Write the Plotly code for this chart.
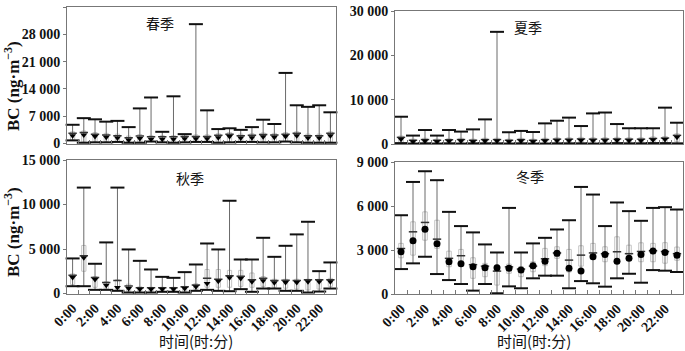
import plotly.graph_objects as go

hours = list(range(24))
xtick_vals = [0, 2, 4, 6, 8, 10, 12, 14, 16, 18, 20, 22]
xtick_text = ["0:00", "2:00", "4:00", "6:00", "8:00", "10:00", "12:00", "14:00", "16:00", "18:00", "20:00", "22:00"]

# ---- spring ----
spring_max = [4800, 6500, 6200, 5600, 5800, 4200, 9000, 11800, 3000, 12100, 2400, 30600, 8500, 3700, 3900, 3500, 4200, 6100, 5000, 18100, 9800, 9400, 9800, 8000]
spring_min = [800, 200, 300, 300, 400, 200, 200, 500, 300, 200, 300, 400, 400, 200, 300, 400, 400, 300, 300, 500, 300, 200, 200, 200]
spring_mean = [2000, 2200, 1800, 1600, 1400, 900, 1300, 1100, 1100, 1100, 1200, 1200, 1200, 1500, 1800, 1400, 1500, 1700, 1600, 1800, 2000, 1400, 1400, 2000]
spring_med = [2600, 2800, 2400, 2200, 2000, 1500, 1900, 1700, 1700, 1700, 1800, 1800, 1800, 2100, 2400, 2000, 2100, 2300, 2200, 2400, 2600, 2000, 2000, 2600]
spring_q1 = [900, 400, 500, 500, 600, 400, 400, 600, 500, 400, 500, 600, 600, 400, 500, 600, 600, 500, 500, 600, 500, 400, 400, 400]
spring_q3 = [3000, 3200, 2800, 2600, 2400, 1900, 2300, 2000, 2000, 2000, 2200, 2200, 2200, 2500, 2800, 2400, 2500, 2700, 2600, 2800, 3000, 2400, 2400, 3000]

# ---- summer ----
summer_max = [6150, 1900, 3150, 1900, 3150, 2800, 3300, 5550, 25300, 2650, 2950, 2700, 4650, 5250, 5950, 4050, 6900, 7100, 4500, 3550, 3550, 3550, 8200, 4800]
summer_min = [200, 100, 150, 100, 150, 100, 150, 150, 150, 100, 150, 100, 100, 150, 150, 150, 100, 100, 200, 150, 150, 200, 200, 150]
summer_mean = [1050, 500, 650, 500, 600, 650, 500, 650, 650, 500, 650, 500, 650, 750, 750, 800, 750, 750, 800, 750, 750, 900, 1000, 1550]
summer_med = [1500, 850, 1000, 850, 950, 1000, 850, 1000, 1000, 850, 1000, 850, 1000, 1100, 1100, 1150, 1100, 1100, 1150, 1100, 1100, 1250, 1350, 1950]
summer_q1 = [400, 250, 300, 250, 300, 300, 300, 300, 300, 250, 300, 250, 300, 350, 350, 350, 300, 300, 350, 300, 300, 350, 400, 500]
summer_q3 = [1800, 1100, 1300, 1100, 1200, 1300, 1100, 1300, 1300, 1100, 1300, 1100, 1300, 1400, 1400, 1500, 1400, 1400, 1500, 1400, 1400, 1600, 1700, 2300]

# ---- autumn ----
autumn_max = [3940, 11900, 3340, 5740, 11900, 4950, 3670, 2700, 1870, 1760, 2400, 3260, 5620, 4950, 10420, 3820, 3820, 6260, 4120, 5360, 6640, 8060, 2510, 3490]
autumn_min = [820, 820, 410, 410, 300, 110, 110, 110, 190, 190, 110, 300, 410, 300, 260, 490, 190, 560, 560, 300, 300, 110, 220, 560]
autumn_mean = [1800, 4010, 1570, 940, 670, 560, 490, 490, 490, 490, 560, 750, 1120, 1390, 1760, 1690, 1310, 1420, 1200, 1240, 1240, 1310, 1310, 1310]
autumn_med = [2050, 4250, 1800, 1250, 1450, 850, 650, 650, 650, 650, 750, 950, 1700, 1600, 2000, 1950, 1550, 1700, 1450, 1500, 1450, 1550, 1550, 1550]
autumn_q1 = [1000, 2500, 700, 500, 400, 250, 250, 250, 300, 300, 250, 450, 700, 700, 700, 800, 700, 800, 700, 600, 500, 400, 500, 800]
autumn_q3 = [2200, 5400, 1900, 1350, 1550, 1050, 750, 700, 700, 700, 800, 1100, 2700, 2700, 2600, 2600, 2300, 1900, 1600, 1600, 1600, 1600, 1600, 1700]

# ---- winter ----
winter_max = [5370, 7640, 8370, 7760, 5600, 4630, 4200, 3380, 2830, 5870, 2830, 3450, 3830, 4400, 5030, 7300, 6780, 4630, 6240, 5650, 4990, 5870, 5920, 5760]
winter_min = [1700, 2090, 2540, 1360, 950, 680, 230, 680, 50, 520, 390, 1070, 1250, 1250, 390, 880, 730, 500, 1070, 1380, 770, 1630, 1590, 1500]
winter_mean = [2880, 3630, 4420, 3420, 2200, 2060, 1860, 1790, 1790, 1750, 1630, 1930, 2240, 2770, 1750, 1560, 2540, 2700, 2240, 2430, 2700, 2930, 2830, 2650]
winter_med = [3100, 4240, 4880, 3740, 2430, 2610, 2000, 1900, 1560, 1850, 1700, 1900, 2400, 2800, 2310, 2650, 2800, 2750, 2880, 2750, 2900, 2950, 2900, 2750]
winter_q1 = [2470, 2650, 3670, 3110, 1860, 1900, 1070, 1180, 610, 1410, 1180, 1520, 1930, 2430, 1500, 1900, 2430, 2200, 2200, 2650, 2200, 2200, 2100, 2300]
winter_q3 = [3450, 4920, 5600, 5030, 2920, 3040, 2470, 2090, 1970, 2040, 1860, 2200, 3110, 3220, 3040, 3290, 3450, 3220, 3900, 3330, 3490, 3450, 3500, 3200]

panels = [
    dict(name="春季", mx=spring_max, mn=spring_min, mean=spring_mean, med=spring_med, q1=spring_q1, q3=spring_q3,
         ymax=35000, yt=[0, 7000, 14000, 21000, 28000, 35000], ytt=["0", "7 000", "14 000", "21 000", "28 000", "35 000"],
         xd=[67/685, 336/685], yd=[1-143.5/351, 1-7/351], sym="triangle-down", title_xy=(160, 23)),
    dict(name="夏季", mx=summer_max, mn=summer_min, mean=summer_mean, med=summer_med, q1=summer_q1, q3=summer_q3,
         ymax=30000, yt=[0, 10000, 20000, 30000], ytt=["0", "10 000", "20 000", "30 000"],
         xd=[395/685, 683/685], yd=[1-144/351, 1-11/351], sym="triangle-down", title_xy=(528, 27)),
    dict(name="秋季", mx=autumn_max, mn=autumn_min, mean=autumn_mean, med=autumn_med, q1=autumn_q1, q3=autumn_q3,
         ymax=15000, yt=[0, 5000, 10000, 15000], ytt=["0", "5 000", "10 000", "15 000"],
         xd=[67/685, 336/685], yd=[1-293.5/351, 1-160/351], sym="triangle-down", title_xy=(190, 178)),
    dict(name="冬季", mx=winter_max, mn=winter_min, mean=winter_mean, med=winter_med, q1=winter_q1, q3=winter_q3,
         ymax=9000, yt=[0, 3000, 6000, 9000], ytt=["0", "3 000", "6 000", "9 000"],
         xd=[395/685, 683/685], yd=[1-294/351, 1-162/351], sym="circle", title_xy=(530, 176)),
]

W, H = 685, 351
fig = go.Figure()
tickfont = dict(family="Liberation Serif", size=14, color="#111", weight="bold")
annotations = []
layout = {}

for i, p in enumerate(panels):
    k = "" if i == 0 else str(i + 1)
    xa, ya = "x" + k, "y" + k
    # whiskers
    wx, wy = [], []
    for h, a, b in zip(hours, p["mn"], p["mx"]):
        wx += [h, h, None]
        wy += [a, b, None]
    fig.add_trace(go.Scatter(x=wx, y=wy, mode="lines", line=dict(color="#6a6a6a", width=1),
                             xaxis=xa, yaxis=ya, showlegend=False, hoverinfo="skip"))
    # boxes
    fig.add_trace(go.Bar(x=hours, y=[b - a for a, b in zip(p["q1"], p["q3"])], base=p["q1"], width=0.38,
                         marker=dict(color="white", line=dict(color="#c4c4c4", width=1)),
                         xaxis=xa, yaxis=ya, showlegend=False))
    # caps
    fig.add_trace(go.Scatter(x=hours + hours, y=p["mx"] + p["mn"], mode="markers",
                             marker=dict(symbol="line-ew", size=10, line=dict(color="#111", width=2)),
                             xaxis=xa, yaxis=ya, showlegend=False, cliponaxis=False))
    # medians
    fig.add_trace(go.Scatter(x=hours, y=p["med"], mode="markers",
                             marker=dict(symbol="line-ew", size=6, line=dict(color="#333", width=1.5)),
                             xaxis=xa, yaxis=ya, showlegend=False))
    # means
    fig.add_trace(go.Scatter(x=hours, y=p["mean"], mode="markers",
                             marker=dict(symbol=p["sym"], size=6 if p["sym"] != "circle" else 7, color="#000"),
                             xaxis=xa, yaxis=ya, showlegend=False))
    bottom = i >= 2
    layout["xaxis" + k] = dict(
        domain=p["xd"], anchor=ya, range=[-0.5, 23.5], automargin=False,
        tickmode="array", tickvals=xtick_vals, ticktext=xtick_text,
        showticklabels=bottom, ticks="", tickangle=-45, tickfont=tickfont,
        showline=True, linecolor="#777", linewidth=1, mirror=True, showgrid=False, zeroline=False,
        minor=dict(tickmode="array", tickvals=[h - 0.5 for h in hours[1:]], ticks="inside", ticklen=4,
                   tickcolor="#777", tickwidth=1, showgrid=False),
    )
    layout["yaxis" + k] = dict(
        domain=p["yd"], anchor=xa, range=[0, p["ymax"]], automargin=False,
        tickmode="array", tickvals=p["yt"], ticktext=p["ytt"], ticks="outside", ticklen=3,
        tickcolor="#777", tickfont=tickfont,
        showline=True, linecolor="#777", linewidth=1, mirror=True, showgrid=False, zeroline=False,
    )
    tx, ty = p["title_xy"]
    annotations.append(dict(text=p["name"], x=tx / W, y=1 - ty / H, xref="paper", yref="paper",
                            xanchor="center", yanchor="middle",
                            showarrow=False, font=dict(family="Noto Sans CJK SC", size=14, color="#111")))

# y titles
for cy in (86, 232):
    annotations.append(dict(text="BC (ng·m<sup>−3</sup>)", x=12 / W, y=1 - cy / H, xref="paper", yref="paper",
                            xanchor="center", yanchor="middle",
                            showarrow=False, textangle=-90,
                            font=dict(family="Liberation Serif", size=17, color="#111", weight="bold")))
# x titles
for cx in (196, 534):
    annotations.append(dict(text="时间(时:分)", x=cx / W, y=1 - 340 / H, xref="paper", yref="paper",
                            xanchor="center", yanchor="middle",
                            showarrow=False, font=dict(family="Noto Sans CJK SC", size=15, color="#111")))

fig.update_layout(width=W, height=H, margin=dict(l=0, r=0, t=0, b=0),
                  plot_bgcolor="white", paper_bgcolor="white", annotations=annotations,
                  barmode="overlay", **layout)
fig.write_html("out.html")
